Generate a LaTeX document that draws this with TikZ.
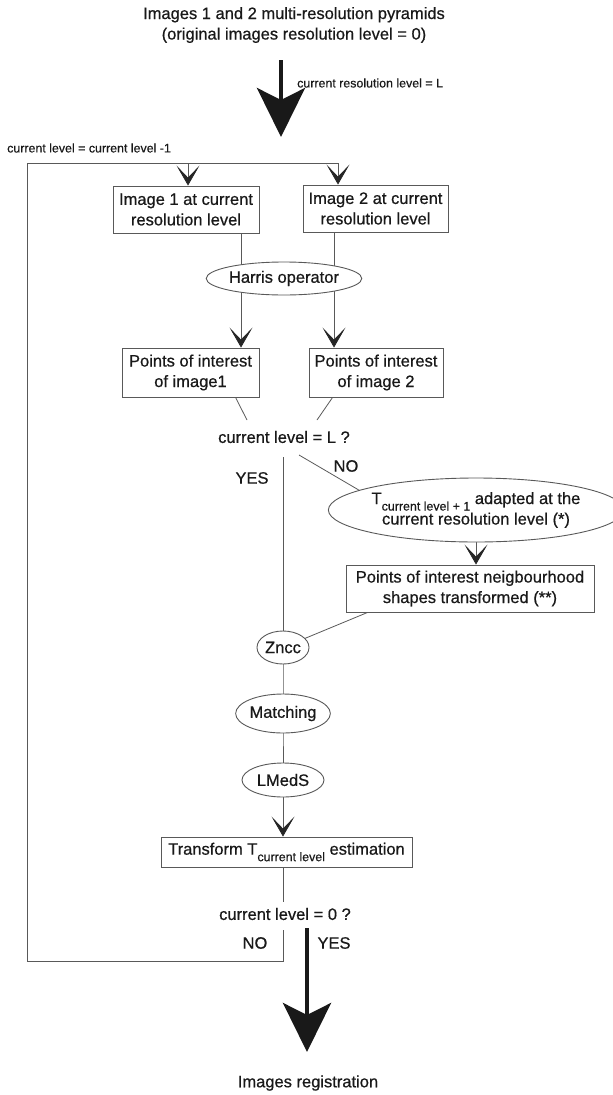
\documentclass[tikz,border=0pt]{standalone}
\usepackage{fontspec}
\setmainfont[FakeBold=0.6]{Liberation Sans}
\usetikzlibrary{arrows.meta,shapes.geometric,calc,backgrounds}
\newcommand{\lowtxt}[1]{\raisebox{-6.5pt}{\fontsize{12.4}{14}\selectfont #1}}
\begin{document}
\begin{tikzpicture}[x=1pt,y=-1pt,
  txt/.style={font=\fontsize{16.5}{20.5}\selectfont, text=black!90, align=center, inner sep=2pt},
  small/.style={font=\fontsize{12.4}{14}\selectfont, text=black!90, inner sep=0pt},
  boxnode/.style={txt, draw=black!65, line width=0.9pt, fill=white, inner sep=0pt},
  ell/.style={txt, ellipse, draw=black!65, line width=0.9pt, fill=white, inner sep=0pt},
  ln/.style={draw=black!65, line width=0.8pt},
  arr/.style={ln, -{Stealth[length=20pt,width=23pt,inset=12pt,color=black!85]}},
  bigarrow/.style={draw=black!90, line width=4.5pt, -{Stealth[length=49pt,width=48pt,inset=12pt]}}
]
\useasboundingbox (0,0) rectangle (613,1095);

% nodes
\node[txt] (title) at (294,25) {Images 1 and 2 multi-resolution pyramids\\(original images resolution level = 0)};
\node[small, anchor=west] (lab1) at (297,83) {current resolution level = L};
\node[small, anchor=west] (lab2) at (7,148) {current level = current level -1};

\node[boxnode, minimum width=146pt, minimum height=47pt] (b1) at (186,209.5) {Image 1 at current\\resolution level};
\node[boxnode, minimum width=145pt, minimum height=47pt] (b2) at (375.5,208.5) {Image 2 at current\\resolution level};
\node[ell, minimum width=146pt, minimum height=33pt] (harris) at (284,278.5) {Harris operator};
\node[boxnode, minimum width=137pt, minimum height=49pt] (p1) at (190.5,372.5) {Points of interest\\of image1};
\node[boxnode, minimum width=134pt, minimum height=49pt] (p2) at (376,372.5) {Points of interest\\of image 2};
\node[txt] (q1) at (284,437) {current level = L ?};
\node[txt] (yes1) at (252,478) {YES};
\node[txt] (no1) at (346,466) {NO};
\node[ell, minimum width=272pt, minimum height=64pt] (T) at (476,510) {T\lowtxt{current level + 1} adapted at the\\current resolution level (*)};
\node[boxnode, minimum width=248pt, minimum height=47pt] (nb) at (470,588.5) {Points of interest neigbourhood\\shapes transformed (**)};
\node[ell, minimum width=52pt, minimum height=33pt] (zncc) at (283,647.5) {Zncc};
\node[ell, minimum width=88pt, minimum height=39pt] (match) at (283,713.5) {Matching};
\node[ell, minimum width=82pt, minimum height=34pt] (lmeds) at (283,780) {LMedS};
\node[boxnode, minimum width=251pt, minimum height=30pt] (tb) at (286.5,852) {Transform T\lowtxt{current level} estimation};
\node[txt] (q2) at (285,914) {current level = 0 ?};
\node[txt] (no2) at (255,943) {NO};
\node[txt] (yes2) at (334,943) {YES};
\node[txt] (reg) at (308,1083) {Images registration};

% coordinates
\coordinate (a1s) at (281,60);
\coordinate (a1e) at (281,137);
\coordinate (lt1) at (188,163);
\coordinate (lt2) at (338,163);
\coordinate (lb0) at (283,930);
\coordinate (lb1) at (283,961);
\coordinate (lb2) at (27,961);
\coordinate (lb3) at (27,163);
\coordinate (c1) at (241,0);
\coordinate (c2) at (334,0);
\coordinate (d1) at (247,420);
\coordinate (d2) at (317,420);
\coordinate (ys) at (283,457);
\coordinate (ns) at (299,455);
\coordinate (ne) at (370,496.6);
\coordinate (q2t) at (283,902);
\coordinate (a2s) at (307,928);
\coordinate (a2e) at (307,1052);

\begin{scope}[on background layer]
\draw[bigarrow] (a1s) -- (a1e);
\draw[ln] (lb0) -- (lb1) -- (lb2) -- (lb3) -- (lt2);
\draw[arr] (lt1) -- (lt1 |- b1.north);
\draw[arr] (lt2) -- (lt2 |- b2.north);
\draw[arr] (b1.south -| c1) -- (p1.north -| c1);
\draw[arr] (b2.south -| c2) -- (p2.north -| c2);
\draw[ln] ($(p1.south west)+(114,0)$) -- (d1);
\draw[ln] ($(p2.south west)+(24,0)$) -- (d2);
\draw[ln] (ys) -- (zncc.center);
\draw[ln] (ns) -- (ne);
\draw[arr] (T.south) -- (T.south |- nb.north);
\draw[ln] ($(nb.south west)+(22,0)$) -- (zncc.center);
\draw[ln] (zncc.center) -- (match.center) -- (lmeds.center);
\draw[arr] (lmeds.south) -- (lmeds.south |- tb.north);
\draw[ln] (q2t |- tb.south) -- (q2t);
\draw[bigarrow] (a2s) -- (a2e);
\end{scope}
\end{tikzpicture}
\end{document}
